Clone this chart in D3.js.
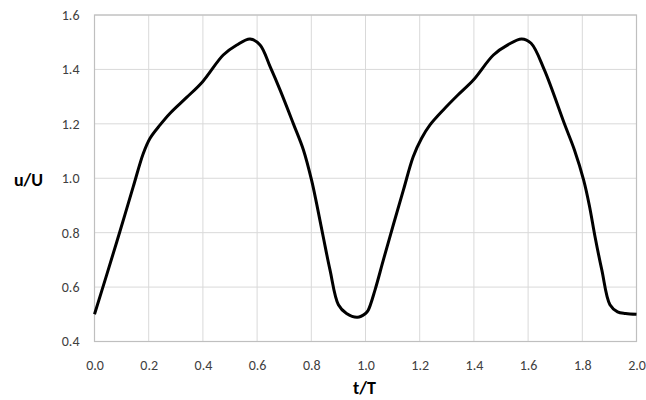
<!DOCTYPE html>
<html lang="en">
<head>
  <meta charset="UTF-8">
  <title>u/U vs t/T</title>
  <script src="https://d3js.org/d3.v7.min.js"></script>
  <style>
    body { margin: 0; background: #fff; }
    text { font-family: Carlito, Lato, "Liberation Sans", sans-serif; fill: #404040; }
  </style>
</head>
<body>
  <svg id="chart" width="646" height="400"></svg>
  <script>
    // time (t/T) and velocity ratio (u/U)
    const tValues = [0, 0.045, 0.094, 0.143, 0.18, 0.205, 0.242, 0.279, 0.34, 0.399, 0.475, 0.525,
      0.574, 0.611, 0.648, 0.685, 0.734, 0.771, 0.801, 0.82, 0.844, 0.869, 0.9, 0.93, 0.97, 1.0,
      1.01, 1.035, 1.066, 1.103, 1.14, 1.176, 1.207, 1.238, 1.287, 1.34, 1.398, 1.472, 1.525, 1.576,
      1.611, 1.66, 1.734, 1.771, 1.805, 1.826, 1.847, 1.872, 1.902, 1.93, 1.96, 2.0];
    const uValues = [0.50, 0.645, 0.805, 0.969, 1.091, 1.147, 1.196, 1.239, 1.297, 1.355, 1.453, 1.49,
      1.512, 1.49, 1.41, 1.324, 1.2, 1.104, 0.993, 0.905, 0.785, 0.663, 0.535, 0.503, 0.489, 0.503,
      0.515, 0.589, 0.70, 0.83, 0.957, 1.079, 1.147, 1.196, 1.251, 1.305, 1.361, 1.453, 1.49, 1.512,
      1.496, 1.398, 1.2, 1.104, 0.993, 0.90, 0.785, 0.663, 0.535, 0.509, 0.503, 0.50];
    const xTicks = [0, 0.2, 0.4, 0.6, 0.8, 1.0, 1.2, 1.4, 1.6, 1.8, 2.0];
    const yTicks = [0.4, 0.6, 0.8, 1.0, 1.2, 1.4, 1.6];

    const data = tValues.map((t, i) => ({ t: t, u: uValues[i] }));

    const margin = { top: 15, right: 9.5, bottom: 58.5, left: 94.5 };
    const width = 646 - margin.left - margin.right;
    const height = 400 - margin.top - margin.bottom;

    const svg = d3.select("#chart")
      .append("g")
      .attr("transform", `translate(${margin.left}, ${margin.top})`);

    const x = d3.scaleLinear().domain([0, 2]).range([0, width]);
    const y = d3.scaleLinear().domain([0.4, 1.6]).range([height, 0]);

    // grid
    svg.append("g")
      .selectAll("line.vg")
      .data(xTicks)
      .enter().append("line")
      .attr("x1", d => x(d)).attr("x2", d => x(d))
      .attr("y1", 0).attr("y2", height)
      .attr("stroke", "#d9d9d9").attr("stroke-width", 1);

    svg.append("g")
      .selectAll("line.hg")
      .data(yTicks)
      .enter().append("line")
      .attr("x1", 0).attr("x2", width)
      .attr("y1", d => y(d)).attr("y2", d => y(d))
      .attr("stroke", "#d9d9d9").attr("stroke-width", 1);

    // plot border
    svg.append("rect")
      .attr("width", width).attr("height", height)
      .attr("fill", "none")
      .attr("stroke", "#bfbfbf").attr("stroke-width", 1.2);

    // axes (labels only)
    svg.append("g")
      .attr("transform", `translate(0, ${height})`)
      .call(d3.axisBottom(x).tickValues(xTicks).tickFormat(d3.format(".1f")).tickSize(0).tickPadding(19))
      .call(g => g.select(".domain").remove())
      .selectAll("text")
      .attr("font-size", 14)
      .attr("fill", "#404040");

    svg.append("g")
      .call(d3.axisLeft(y).tickValues(yTicks).tickFormat(d3.format(".1f")).tickSize(0).tickPadding(15))
      .call(g => g.select(".domain").remove())
      .selectAll("text")
      .attr("font-size", 14)
      .attr("fill", "#404040");

    // axis titles
    svg.append("text")
      .attr("x", width / 2 - 1)
      .attr("y", height + 52)
      .attr("text-anchor", "middle")
      .attr("font-size", 18)
      .attr("font-weight", "bold")
      .style("fill", "#000")
      .text("t/T");

    svg.append("text")
      .attr("x", -66)
      .attr("y", y(1.0) + 8)
      .attr("text-anchor", "middle")
      .attr("font-size", 18)
      .attr("font-weight", "bold")
      .style("fill", "#000")
      .text("u/U");

    const line = d3.line()
      .x(d => x(d.t))
      .y(d => y(d.u))
      .curve(d3.curveCatmullRom.alpha(0.5));

    svg.append("path")
      .datum(data)
      .attr("fill", "none")
      .attr("stroke", "#000")
      .attr("stroke-width", 3)
      .attr("stroke-linejoin", "round")
      .attr("d", line);
  </script>
</body>
</html>
